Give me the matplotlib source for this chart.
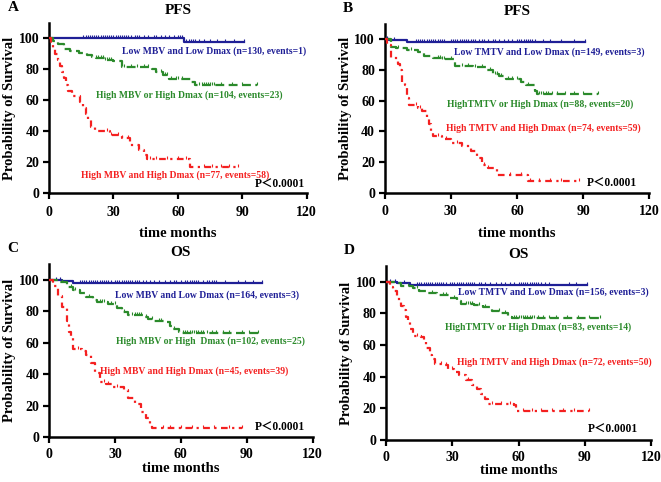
import matplotlib
matplotlib.use("Agg")
import matplotlib.pyplot as plt
from matplotlib.path import Path

plt.rcParams['font.family'] = ['Liberation Serif', 'Noto Sans CJK SC', 'DejaVu Serif']
plt.rcParams['font.weight'] = 'bold'

BLUE = '#1f1f96'
GREEN = '#2b8a2b'
RED = '#f42020'

# ---------------- Panel A (PFS, MBV) ----------------
A_blue_t = [0, 63, 91]
A_blue_s = [100, 97.6, 97.6]
A_blue_c = [16, 17, 18, 19, 20, 21, 22, 23, 24, 25, 26, 27, 28, 29, 30, 31, 32, 33, 34, 35, 36,
            37, 38, 40, 41, 42, 44, 46, 49, 50, 52, 54, 56, 58, 60, 61, 62, 64, 65, 66, 67, 68,
            70, 72, 75, 78, 82, 86, 91]
A_green_t = [0, 2, 4, 7, 10, 14, 17.5, 20, 22, 26, 30, 34, 48, 50, 53, 56, 66, 68, 97]
A_green_s = [100, 98, 96, 93, 92, 90.3, 89, 88, 87, 86, 85, 81.7, 80, 78.5, 76, 73.5, 71.5, 69.5, 69.5]
A_green_c = [22, 23, 24, 25, 26, 27, 28, 29, 35, 38, 41, 44, 46, 50, 52, 54, 55, 57, 59, 60, 62,
             70, 71, 72, 73, 74, 75, 76, 77, 80, 85, 90, 97]
A_red_t = [0, 1, 2, 3, 4, 5, 6, 7, 8, 9, 10.5, 14.4, 16, 17, 18.3, 19.5, 21.4, 28.3, 33.8, 37.6,
           42, 44, 45.4, 65.5, 88.4]
A_red_s = [100, 97, 93, 90, 86, 82, 78, 74, 70, 66, 63, 59, 55, 51, 47, 43, 40, 37.6, 35.5, 31,
           28, 25, 22, 17, 17]
A_red_c = [27, 29, 32, 34, 37, 47, 50, 55, 60, 64, 72, 76, 80, 84, 88]

# ---------------- Panel B (PFS, TMTV) ----------------
B_blue_t = [0, 2, 10, 91]
B_blue_s = [100, 99.3, 98, 98]
B_blue_c = [1, 4, 14, 15, 16, 17, 18, 19, 20, 21, 22, 23, 24, 25, 26, 27, 30, 31, 32, 33, 34,
            35, 36, 37, 38, 39, 40, 41, 43, 44, 45, 47, 49, 50, 52, 54, 56, 58, 60, 61, 62, 63,
            64, 65, 66, 67, 68, 72, 75, 80, 86, 91]
B_green_t = [0, 3, 5, 10, 15, 18, 22, 26, 32, 40, 46, 49, 52, 55, 62, 64, 68, 69, 97]
B_green_s = [100, 95, 94.5, 93, 91.5, 89, 88, 87, 82.4, 82, 80, 77.4, 76, 74, 72, 70, 66, 64.5, 64.5]
B_green_c = [6, 12, 24, 25, 26, 27, 30, 35, 38, 41, 44, 48, 50, 51, 53, 56, 58, 60, 65, 69, 70,
             71, 72, 73, 74, 76, 78, 82, 86, 90, 97]
B_red_t = [0, 1, 3, 6, 7, 8, 9, 10, 11, 15, 17, 19, 20, 21, 22, 26, 30, 35, 39, 42, 44, 47,
           51, 65, 88]
B_red_s = [100, 96, 88, 84, 80, 72, 70, 62, 57, 55, 53, 48, 45, 40, 37, 35, 32.5, 30.5, 27, 23,
           18, 16.5, 12, 8, 8]
B_red_c = [14, 16, 24, 28, 33, 45, 47, 57, 62, 66, 70, 75, 80, 88]

# ---------------- Panel C (OS, MBV) ----------------
C_blue_t = [0, 6, 11, 97]
C_blue_s = [100, 99.3, 98.2, 98.2]
C_blue_c = [3, 5, 14, 15, 16, 17, 18, 19, 20, 21, 22, 23, 24, 25, 26, 27, 28, 30, 31, 32, 33,
            34, 35, 36, 37, 38, 39, 40, 41, 43, 44, 46, 48, 50, 53, 55, 57, 58, 60, 62, 63, 64,
            65, 66, 67, 68, 70, 72, 73, 74, 75, 76, 80, 86, 89, 93, 97]
C_green_t = [0, 4, 8, 11, 14, 17, 20, 22, 27, 31, 33, 36, 43, 45, 48, 53, 55, 56, 59, 60, 95]
C_green_s = [100, 99, 95.8, 93.5, 92, 89, 87.5, 86, 84.5, 82, 79.5, 78, 76.5, 75, 74, 73, 71,
             69, 67, 66.5, 66.5]
C_green_c = [6, 10, 12, 18, 23, 24, 25, 28, 30, 34, 38, 39, 40, 41, 42, 44, 47, 50, 51, 57, 61,
             62, 63, 64, 65, 66, 67, 68, 69, 70, 72, 74, 76, 79, 82, 88, 91, 95]
C_red_t = [0, 2, 4, 6, 8, 9, 10, 11, 15, 17, 19, 21, 23, 26, 29, 34, 36, 39, 42, 44, 46, 47, 88]
C_red_s = [100, 96, 90, 83, 74, 67, 63, 56, 55, 52, 47, 41, 35, 34, 32, 30, 25, 21, 16, 12, 8,
           6, 6]
C_red_c = [13, 25, 27, 31, 52, 55, 60, 65, 70, 75, 82, 88]

# ---------------- Panel D (OS, TMTV) ----------------
D_blue_t = [0, 5, 11, 91]
D_blue_s = [100, 99.4, 98.2, 98.2]
D_blue_c = [2, 4, 8, 14, 15, 16, 17, 18, 19, 20, 21, 22, 23, 24, 25, 26, 27, 29, 30, 31, 32, 33,
            34, 35, 36, 37, 38, 39, 40, 42, 43, 45, 47, 50, 52, 54, 56, 58, 60, 61, 62, 63, 64,
            65, 66, 67, 68, 69, 70, 72, 74, 83, 86, 91]
D_green_t = [0, 4, 7, 12, 15, 19, 23, 29, 32, 34, 40, 44, 48, 52, 55, 57, 97]
D_green_s = [100, 99, 97.5, 96, 94.5, 93, 91.5, 90, 88, 86, 85.5, 84, 81.5, 80, 78, 77, 77]
D_green_c = [10, 14, 21, 26, 27, 31, 36, 37, 38, 39, 42, 45, 51, 54, 58, 59, 60, 61, 62, 63, 64,
             65, 66, 67, 69, 71, 74, 77, 82, 87, 92, 97]
D_red_t = [0, 2, 3, 5, 6, 7, 8, 9, 10, 11, 12, 16, 17, 18, 20, 21, 22, 26, 28, 31, 33, 36, 39,
           41, 43, 45, 46, 58, 59, 92]
D_red_s = [100, 97, 94, 91, 88, 85, 82, 78, 75, 70, 66, 65, 62, 58, 54, 51, 48, 47.5, 45, 43,
           41, 38, 35, 32, 29, 26, 23, 22, 18.5, 18.5]
D_red_c = [14, 25, 27, 30, 37, 48, 52, 56, 62, 66, 70, 75, 80, 85, 92]

titles = ['PFS', 'PFS', 'OS', 'OS']
letters = ['A', 'B', 'C', 'D']
x_ticks = [0, 30, 60, 90, 120]
y_ticks = [0, 20, 40, 60, 80, 100]

labels = {
    'A': ['Low MBV and Low Dmax (n=130, events=1)',
          'High MBV or High Dmax (n=104, events=23)',
          'High MBV and High Dmax (n=77, events=58)'],
    'B': ['Low TMTV and Low Dmax (n=149, events=3)',
          'HighTMTV or High Dmax (n=88, events=20)',
          'High TMTV and High Dmax (n=74, events=59)'],
    'C': ['Low MBV and Low Dmax (n=164, events=3)',
          'High MBV or High  Dmax (n=102, events=25)',
          'High MBV and High Dmax (n=45, events=39)'],
    'D': ['Low TMTV and Low Dmax (n=156, events=3)',
          'HighTMTV or High Dmax (n=83, events=14)',
          'High TMTV and High Dmax (n=72, events=50)'],
}
p_text = 'P\uff1c0.0001'

# label anchor positions (data coords, left aligned)
label_pos = {
    'A': [(34, 91.4), (21.8, 63.4), (15, 11.8)],
    'B': [(31.3, 91.6), (28.3, 57.8), (27.7, 42.2)],
    'C': [(30, 90.5), (30.7, 60.8), (23.2, 41.7)],
    'D': [(32.8, 93.4), (26.7, 71.5), (32.3, 49.3)],
}
p_pos = {'A': (96, 5.4), 'B': (91.8, 6), 'C': (93.5, 5.7), 'D': (91.3, 6.3)}

panels = {
    'A': [(A_blue_t, A_blue_s, A_blue_c), (A_green_t, A_green_s, A_green_c), (A_red_t, A_red_s, A_red_c)],
    'B': [(B_blue_t, B_blue_s, B_blue_c), (B_green_t, B_green_s, B_green_c), (B_red_t, B_red_s, B_red_c)],
    'C': [(C_blue_t, C_blue_s, C_blue_c), (C_green_t, C_green_s, C_green_c), (C_red_t, C_red_s, C_red_c)],
    'D': [(D_blue_t, D_blue_s, D_blue_c), (D_green_t, D_green_s, D_green_c), (D_red_t, D_red_s, D_red_c)],
}

axes_rect = {
    'A': [0.0741, 0.599, 0.390, 0.354],
    'B': [0.582, 0.5996, 0.400, 0.351],
    'C': [0.0741, 0.0934, 0.399, 0.358],
    'D': [0.584, 0.0871, 0.401, 0.361],
}
xlabel_pad = {'A': 6, 'B': 6, 'C': 1, 'D': 0}

colors = [BLUE, GREEN, RED]
styles = ['-', (0, (4, 2)), (0, (3, 2, 1, 2))]
censor_marker = Path([(0, 0), (0, 1)], [Path.MOVETO, Path.LINETO])


def surv_at(t, s, x):
    v = s[0]
    for ti, si in zip(t, s):
        if ti <= x:
            v = si
    return v


fig = plt.figure(figsize=(6.61, 4.82), dpi=100)
for i, key in enumerate(['A', 'B', 'C', 'D']):
    ax = fig.add_axes(axes_rect[key])
    for (t, s, c), col, ls in zip(panels[key], colors, styles):
        ax.step(t, s, where='post', color=col, lw=1.6, linestyle=ls, zorder=3)
        cy = [surv_at(t, s, x) for x in c]
        ax.plot(c, cy, linestyle='none', marker=censor_marker, markersize=5,
                markeredgewidth=0.8, color=col, zorder=3)
    for (x, y), txt, col in zip(label_pos[key], labels[key], colors):
        ax.text(x, y, txt, color=col, fontsize=6.9, fontweight='bold', ha='left', va='center')
    ax.text(p_pos[key][0], p_pos[key][1], p_text, color='black', fontsize=8.3,
            fontweight='bold', ha='left', va='center')
    ax.set_xlim(0, 120)
    ax.set_ylim(0, 110)
    ax.set_xticks(x_ticks)
    ax.set_yticks(y_ticks)
    ax.tick_params(axis='both', width=1.6, length=4, labelsize=10, pad=3)
    ax.tick_params(axis='x', pad=5 if key in 'AB' else 4)
    for lab in ax.get_xticklabels() + ax.get_yticklabels():
        lab.set_fontweight('bold')
    for sp in ['top', 'right']:
        ax.spines[sp].set_visible(False)
    for sp in ['left', 'bottom']:
        ax.spines[sp].set_linewidth(1.8)
    ax.set_xlabel('time months', fontsize=10.5, fontweight='bold', labelpad=xlabel_pad[key])
    ax.set_ylabel('Probability of Survival', fontsize=10.5, fontweight='bold', labelpad=2)
    ax.set_title(titles[i], fontsize=11, fontweight='bold', pad=6)
    ax.text(-0.16, 1.09, letters[i], transform=ax.transAxes, fontsize=11,
            fontweight='bold', ha='left', va='center')

fig.savefig('out.png', dpi=100)
